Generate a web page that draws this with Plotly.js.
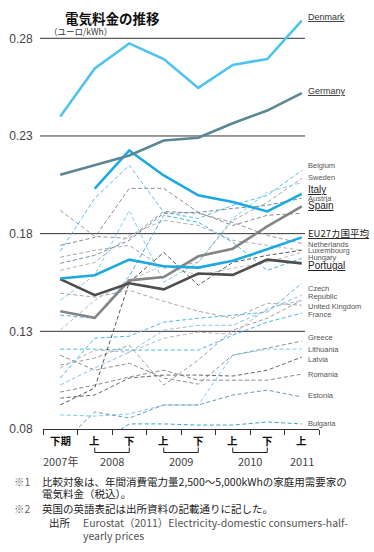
<!DOCTYPE html>
<html><head><meta charset="utf-8">
<script src="https://cdn.plot.ly/plotly-3.0.1.min.js"></script>
<style>html,body{margin:0;padding:0;background:#fff;}#chart{width:374px;height:552px;}</style>
</head><body><div id="chart"></div>
<script>
// ---- data ----
const periods = ['2007下','2008上','2008下','2009上','2009下','2010上','2010下','2011上'];
const halfLabels = ['下期','上','下','上','下','上','下','上'];
const yearLabels = ['2007年','2008','2009','2010','2011'];
const yearSpans = [[0,0],[1,2],[3,4],[5,6],[7,7]];
const yTicks = [0.08,0.13,0.18,0.23,0.28];

const denmark    = [0.2400,0.2646,0.2774,0.2694,0.2546,0.2664,0.2694,0.2890];
const germany    = [0.2102,0.2149,0.2200,0.2277,0.2291,0.2365,0.2430,0.2519];
const italy      = [null,  0.2030,0.2226,0.2098,0.1996,0.1962,0.1914,0.2004];
const spain      = [0.1403,0.1369,0.1561,0.1578,0.1684,0.1723,0.1837,0.1940];
const portugal   = [0.1567,0.1485,0.1546,0.1515,0.1596,0.1589,0.1667,0.1648];
const eu27       = [0.1570,0.1587,0.1667,0.1633,0.1626,0.1661,0.1720,0.1781];

const netherlands= [0.1919,0.1786,0.1776,0.1914,0.1904,0.1858,0.1791,0.1750];
const ireland    = [0.1740,0.1781,0.2032,0.2032,0.1909,0.1842,0.1894,0.1904];
const belgium    = [0.1710,0.1981,0.2150,0.1909,0.1878,0.1945,0.1996,0.2124];
const sweden     = [0.1679,0.1715,0.1740,0.1623,0.1653,0.1868,0.1960,0.2083];
const austria    = [0.1648,0.1689,0.1766,0.1904,0.1909,0.1929,0.1945,0.1981];
const luxembourg = [0.1612,0.1653,0.1791,0.1868,0.1842,0.1766,0.1740,0.1715];
const cyprus     = [0.1459,0.1587,0.1919,0.1551,0.1653,0.1878,0.2011,0.2062];
const uk         = [0.1495,0.1475,0.1510,0.1454,0.1403,0.1367,0.1444,0.1434];
const hungary    = [0.1383,0.1367,0.1582,0.1894,0.1858,0.1756,0.1612,0.1674];
const slovakia   = [0.1306,0.1459,0.1561,0.1638,0.1587,0.1623,0.1653,0.1704];
const france     = [0.1209,0.1209,0.1204,0.1204,0.1204,0.1280,0.1347,0.1393];
const greece     = [0.1178,0.1101,0.1137,0.1061,0.1030,0.1178,0.1214,0.1250];
const poland     = [0.1127,0.1163,0.1229,0.1025,0.1153,0.1306,0.1367,0.1459];
const finland    = [0.1112,0.1204,0.1193,0.1265,0.1296,0.1285,0.1418,0.1459];
const czech      = [0.1061,0.1265,0.1275,0.1347,0.1367,0.1383,0.1398,0.1546];
const slovenia   = [0.1025,0.1112,0.1193,0.1306,0.1331,0.1331,0.1408,0.1485];
const romania    = [0.0989,0.1025,0.1066,0.1101,0.1050,0.1050,0.1050,0.1081];
const latvia     = [0.0958,0.0974,0.1061,0.1076,0.1076,0.1071,0.1101,0.1168];
const malta      = [0.0923,0.1010,0.1551,0.1704,0.1536,0.1653,0.1689,0.1715];
const lithuania  = [0.0872,0.0866,0.0877,0.0923,0.0923,0.1178,0.1209,0.1209];
const estonia    = [0.0718,0.0887,0.0856,0.0923,0.0923,0.0974,0.0999,0.0964];
const bulgaria   = [0.0708,0.0713,0.0826,0.0826,0.0820,0.0820,0.0836,0.0826];

// ---- styles ----
const dashedSeries = [
  ['Netherlands',netherlands,'#9a9a9a'],['Ireland',ireland,'#8c8c8c'],['Belgium',belgium,'#55bfe9'],
  ['Sweden',sweden,'#a6a6a6'],['Austria',austria,'#6f8fa0'],['Luxembourg',luxembourg,'#b3b3b3'],
  ['Cyprus',cyprus,'#7fcdee'],['United Kingdom',uk,'#aaaaaa'],['Hungary',hungary,'#3fb2e3'],
  ['Slovakia',slovakia,'#bdbdbd'],['France',france,'#4cb9e6'],['Greece',greece,'#8f8f8f'],
  ['Poland',poland,'#a0a0a0'],['Finland',finland,'#b8b8b8'],['Czech Republic',czech,'#4cb9e6'],
  ['Slovenia',slovenia,'#8cc3dc'],['Romania',romania,'#8a8a8a'],['Latvia',latvia,'#666666'],
  ['Malta',malta,'#555555'],['Lithuania',lithuania,'#7dcdec'],['Estonia',estonia,'#6b9db5'],
  ['Bulgaria',bulgaria,'#3aa5c8']
];
const thickSeries = [
  ['Spain',spain,'#858585'],['Portugal',portugal,'#4d4d4d'],['EU27',eu27,'#1ba9e1'],
  ['Italy',italy,'#1ba9e1'],['Germany',germany,'#5b8794'],['Denmark',denmark,'#4fc3f0']
];

const xIdx = periods.map((p,i)=>i);
const traces = [];
dashedSeries.forEach(([n,v,c])=>traces.push({x:xIdx,y:v,name:n,mode:'lines',type:'scatter',
  line:{color:c,width:1,dash:'4px,2.5px'},hoverinfo:'skip'}));
thickSeries.forEach(([n,v,c])=>traces.push({x:xIdx,y:v,name:n,mode:'lines',type:'scatter',
  line:{color:c,width:2.6},hoverinfo:'skip',connectgaps:false}));

// ---- layout helpers (pixel -> paper) ----
const L=43,R=55,T=9,B=123,W=374,H=552;
const pw=W-L-R, ph=H-T-B;
const px = x => (x-L)/pw;
const py = y => (H-B-y)/ph;

const labelFont = 'Liberation Sans, Arial, sans-serif';
const jpFont = 'Noto Sans CJK JP, sans-serif';
const labelLayout = [
  ['<u>Denmark</u>',0.2911,9,'#333'],['<u>Germany</u>',0.2528,9,'#333'],
  ['Belgium',0.2150,7.5,'#555'],['Sweden',0.2088,7.5,'#555'],['<u>Italy</u>',0.2028,10,'#222'],
  ['Austria',0.1980,7.5,'#555'],['<u>Spain</u>',0.1945,10,'#222'],['<u>EU27カ国平均</u>',0.1802,9.5,'#222'],
  ['Netherlands',0.1747,7.5,'#555'],['Luxembourg',0.1713,7.5,'#555'],['Hungary',0.1680,7.5,'#555'],
  ['<u>Portugal</u>',0.1638,10,'#222'],['Czech',0.1520,7.5,'#555'],['Republic',0.1480,7.5,'#555'],
  ['United Kingdom',0.1428,7.5,'#555'],['France',0.1387,7.5,'#555'],['Greece',0.1267,7.5,'#555'],
  ['Lithuania',0.1207,7.5,'#555'],['Latvia',0.1156,7.5,'#555'],['Romania',0.1078,7.5,'#555'],
  ['Estonia',0.0969,7.5,'#555'],['Bulgaria',0.0827,7.5,'#555']
];

const annotations = [];
labelLayout.forEach(([t,y,s,c])=>annotations.push({xref:'paper',yref:'y',x:px(306),y:y,text:t,showarrow:false,
  xanchor:'left',yanchor:'middle',font:{family:/[^\x00-\x7F]/.test(t)?jpFont:labelFont,size:s,color:c}}));
halfLabels.forEach((t,i)=>annotations.push({xref:'x',yref:'paper',x:i,y:py(441),text:t,showarrow:false,
  xanchor:'center',yanchor:'middle',font:{family:jpFont,size:10.5,color:'#111',weight:700}}));
yearLabels.forEach((t,i)=>annotations.push({xref:'x',yref:'paper',x:(yearSpans[i][0]+yearSpans[i][1])/2,y:py(461),
  text:t,showarrow:false,xanchor:'center',yanchor:'middle',font:{family:jpFont,size:11,color:'#444'}}));
// title & unit
annotations.push({xref:'paper',yref:'paper',x:px(63),y:py(17.5),text:'電気料金の推移',showarrow:false,xanchor:'left',yanchor:'middle',
  font:{family:jpFont,size:13.5,color:'#111',weight:700}});
annotations.push({xref:'paper',yref:'paper',x:px(47),y:py(31),text:'（ユーロ/kWh）',showarrow:false,xanchor:'left',yanchor:'middle',
  font:{family:jpFont,size:8.5,color:'#333'}});
// footnotes
const fn = [
  [12,481,'※1','#666',10.5],[40,481,'比較対象は、年間消費電力量2,500〜5,000kWhの家庭用需要家の','#222',10.5],
  [40,494,'電気料金（税込）。','#222',10.5],
  [12,508,'※2','#666',10.5],[40,508,'英国の英語表記は出所資料の記載通りに記した。','#222',10.5],
  [47,522,'出所','#222',10.5],[81,522,'Eurostat（2011）Electricity-domestic consumers-half-','#555',10.5],
  [81,535,'yearly prices','#555',10.5]
];
fn.forEach(([x,y,t,c,s])=>annotations.push({xref:'paper',yref:'paper',x:px(x),y:py(y),text:t,showarrow:false,
  xanchor:'left',yanchor:'middle',font:{family:jpFont,size:s,color:c}}));

const shapes = [];
yTicks.slice(1).forEach(v=>shapes.push({type:'line',xref:'paper',yref:'y',x0:px(40),x1:px(305),y0:v,y1:v,
  line:{color:'#333',width:1},layer:'below'}));
yearSpans.forEach(([a,b])=>{ if(a===b) return;
  const yTop=py(447.5), yBot=py(452.5);
  shapes.push({type:'line',xref:'x',yref:'paper',x0:a,x1:b,y0:yBot,y1:yBot,line:{color:'#222',width:1}});
  shapes.push({type:'line',xref:'x',yref:'paper',x0:a,x1:a,y0:yTop,y1:yBot,line:{color:'#222',width:1}});
  shapes.push({type:'line',xref:'x',yref:'paper',x0:b,x1:b,y0:yTop,y1:yBot,line:{color:'#222',width:1}});
});

const boundaries = periods.map((p,i)=>i-0.5).concat([periods.length-0.5]);

const layout = {
  width:W,height:H,margin:{l:L,r:R,t:T,b:B,pad:0},
  paper_bgcolor:'#fff',plot_bgcolor:'#fff',showlegend:false,
  xaxis:{range:[-0.5,periods.length-0.5],tickmode:'array',tickvals:boundaries,showticklabels:false,
    ticks:'outside',ticklen:5,tickcolor:'#333',tickwidth:1,showgrid:false,zeroline:false,
    showline:true,linecolor:'#333',linewidth:1,fixedrange:true},
  yaxis:{range:[0.08,0.295],tickmode:'array',tickvals:yTicks,ticktext:yTicks.map(v=>v.toFixed(2)),
    ticks:'outside',ticklen:7,tickcolor:'rgba(0,0,0,0)',showgrid:false,zeroline:false,showline:false,
    tickfont:{family:labelFont,size:12,color:'#444'},fixedrange:true},
  annotations:annotations,shapes:shapes
};
Plotly.newPlot('chart',traces,layout,{staticPlot:true,displayModeBar:false});
</script></body></html>
